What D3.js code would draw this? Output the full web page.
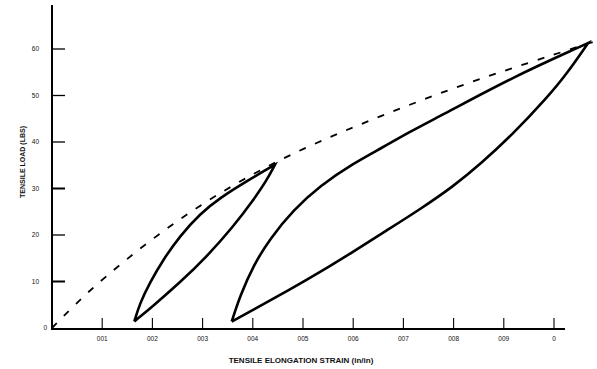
<!DOCTYPE html>
<html>
<head>
<meta charset="utf-8">
<script src="https://cdn.jsdelivr.net/npm/d3@7"></script>
<style>
  body { margin: 0; background: #fff; }
  svg { display: block; }
  text { font-family: "Liberation Sans", Arial, sans-serif; fill: #111; }
</style>
</head>
<body>
<div id="chart"></div>
<script>
var width = 597, height = 369;

// tick values and labels as printed
var xTicks = [0.001, 0.002, 0.003, 0.004, 0.005, 0.006, 0.007, 0.008, 0.009, 0.010];
var xTickLabels = ["001", "002", "003", "004", "005", "006", "007", "008", "009", "0"];
var yTicks = [0, 10, 20, 30, 40, 50, 60];

// dashed envelope curve (strain, load)
var envStrain = [0, 0.0005, 0.001, 0.002, 0.003, 0.004, 0.005, 0.006, 0.007, 0.008, 0.009, 0.010, 0.0108];
var envLoad   = [0, 5.5, 10.5, 19.3, 26.8, 33.2, 38.6, 43.2, 47.5, 51.6, 55.3, 58.8, 61.6];

// small hysteresis loop: loading branch then unloading branch
var smallUpStrain = [0.00164, 0.00175, 0.00195, 0.00222, 0.00255, 0.00295, 0.00335, 0.00388, 0.00444];
var smallUpLoad   = [1.4, 5.3, 9.8, 14.8, 19.8, 24.6, 28, 31.6, 35.1];
var smallDnStrain = [0.00444, 0.00428, 0.00401, 0.00361, 0.00308, 0.00255, 0.00202, 0.00164];
var smallDnLoad   = [35.1, 31.8, 27.5, 21.8, 15.3, 9.8, 4.8, 1.4];

// large hysteresis loop
var largeUpStrain = [0.00358, 0.00375, 0.00401, 0.00434, 0.00481, 0.00534, 0.006, 0.0066, 0.00707, 0.00786, 0.00919, 0.01052, 0.01068];
var largeUpLoad   = [1.4, 7, 13.4, 19.2, 25.4, 30.6, 35.4, 38.9, 41.9, 46.3, 54, 60.5, 61.3];
var largeDnStrain = [0.01068, 0.01025, 0.00985, 0.00919, 0.00853, 0.008, 0.00733, 0.00667, 0.006, 0.00534, 0.00468, 0.00401, 0.00358];
var largeDnLoad   = [61.3, 54.6, 49.4, 41.8, 35.2, 30.5, 25.5, 21, 16.4, 12, 7.9, 3.9, 1.4];

var x = d3.scaleLinear().domain([0, 0.010]).range([52, 554]);
var y = d3.scaleLinear().domain([0, 60]).range([328, 49]);

var svg = d3.select("#chart").append("svg")
  .attr("width", width)
  .attr("height", height);

function zip(xs, ys) {
  return xs.map(function(v, i) { return [v, ys[i]]; });
}

var line = d3.line()
  .curve(d3.curveBasis)
  .x(function(d) { return x(d[0]); })
  .y(function(d) { return y(d[1]); });

// axes lines
svg.append("line")
  .attr("x1", 52).attr("x2", 52)
  .attr("y1", 5).attr("y2", 330)
  .attr("stroke", "#000").attr("stroke-width", 2);
svg.append("line")
  .attr("x1", 51).attr("x2", 565)
  .attr("y1", 329).attr("y2", 329)
  .attr("stroke", "#000").attr("stroke-width", 2);

// y ticks (inside)
var yAxis = svg.append("g");
yTicks.forEach(function(t) {
  if (t > 0) {
    yAxis.append("line")
      .attr("x1", 52).attr("x2", 65)
      .attr("y1", y(t)).attr("y2", y(t))
      .attr("stroke", "#000")
      .attr("stroke-width", (t == 10 || t == 30) ? 2 : 1.3);
  }
  yAxis.append("text")
    .attr("x", t == 0 ? 47 : 39)
    .attr("y", y(t) + 2)
    .attr("text-anchor", "end")
    .style("font-size", "6.5px")
    .text(t);
});

// x ticks (inside, pointing up)
var xAxis = svg.append("g");
xTicks.forEach(function(t, i) {
  xAxis.append("line")
    .attr("x1", x(t)).attr("x2", x(t))
    .attr("y1", 318).attr("y2", 329)
    .attr("stroke", "#000").attr("stroke-width", 1.1);
  xAxis.append("text")
    .attr("x", x(t))
    .attr("y", 341)
    .attr("text-anchor", "middle")
    .style("font-size", "6.5px")
    .text(xTickLabels[i]);
});

// axis titles
svg.append("text")
  .attr("x", 301).attr("y", 363)
  .attr("text-anchor", "middle")
  .style("font-size", "8px")
  .style("font-weight", "bold")
  .text("TENSILE ELONGATION STRAIN (in/in)");

svg.append("text")
  .attr("transform", "translate(25,162) rotate(-90)")
  .attr("text-anchor", "middle")
  .style("font-size", "7px")
  .style("font-weight", "bold")
  .text("TENSILE LOAD (LBS)");

// dashed envelope
svg.append("path")
  .datum(zip(envStrain, envLoad))
  .attr("d", line)
  .attr("fill", "none")
  .attr("stroke", "#000")
  .attr("stroke-width", 1.8)
  .attr("stroke-dasharray", "7,10");

// loops: two branches joined so the peak stays sharp
var loops = [
  [zip(smallUpStrain, smallUpLoad), zip(smallDnStrain, smallDnLoad)],
  [zip(largeUpStrain, largeUpLoad), zip(largeDnStrain, largeDnLoad)]
];

svg.selectAll("path.loop")
  .data(loops)
  .enter()
  .append("path")
  .attr("class", "loop")
  .attr("d", function(d) {
    return line(d[0]) + line(d[1]).replace(/^M/, "L");
  })
  .attr("fill", "none")
  .attr("stroke", "#000")
  .attr("stroke-width", 2.6)
  .attr("stroke-linejoin", "miter")
  .attr("stroke-miterlimit", 20);
</script>
</body>
</html>
